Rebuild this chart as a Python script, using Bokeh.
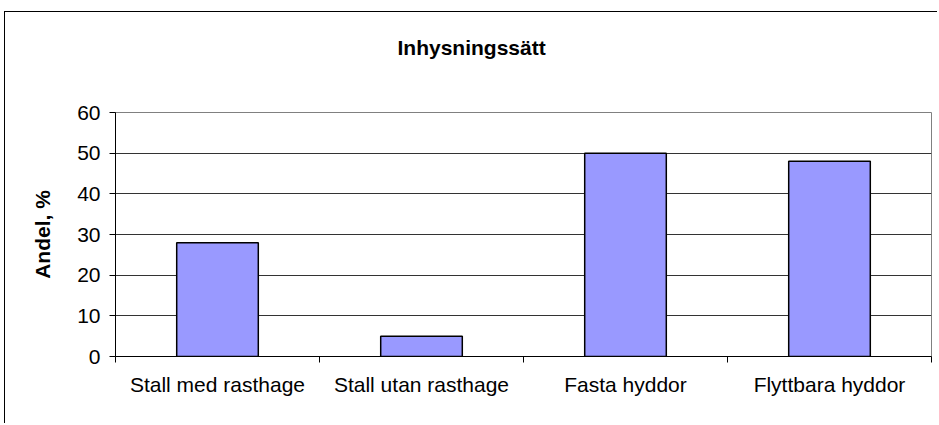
import numpy as np
from bokeh.plotting import figure
from bokeh.models import ColumnDataSource, FixedTicker, Range1d, Title
from bokeh.embed import file_html
from bokeh.resources import INLINE

title_text = "Inhysningssätt"
y_label = "Andel, %"
categories = ["Stall med rasthage", "Stall utan rasthage", "Fasta hyddor", "Flyttbara hyddor"]
values = [28, 5, 50, 48]
y_ticks = [0, 10, 20, 30, 40, 50, 60]

FONT = "Liberation Sans"

pos = np.arange(len(categories)) + 0.5
src = ColumnDataSource(dict(x=pos, top=values, cat=categories))

p = figure(width=933, height=412, output_backend="svg", toolbar_location=None,
           x_range=Range1d(0, len(categories)), y_range=Range1d(0, 60),
           min_border_left=110, min_border_right=7, min_border_top=100, min_border_bottom=68)

p.margin = (11, 0, 0, 4)
p.styles = {"border-left": "1px solid black", "border-top": "1px solid black"}

p.vbar(x="x", top="top", width=0.4, source=src, fill_color="#9999FF",
       line_color="black", line_width=1.5)

# empty spacer between the plot area and the chart title
spacer = Title(text=" ", text_font_size="10px", standoff=20)
p.add_layout(spacer, "above")

p.title.text = title_text
p.title.align = "left"
p.title.offset = 282
p.title.vertical_align = "top"
p.title.text_font = FONT
p.title.text_font_size = "21px"
p.title.text_font_style = "bold"
p.title.text_color = "black"
p.title.standoff = 38

p.outline_line_color = "#808080"
p.outline_line_width = 1
p.background_fill_color = "white"
p.border_fill_color = "white"

p.xgrid.visible = False
p.ygrid.ticker = FixedTicker(ticks=y_ticks)
p.ygrid.grid_line_color = "#333333"
p.ygrid.grid_line_width = 1

xa = p.xaxis[0]
xa.ticker = FixedTicker(ticks=list(pos), minor_ticks=list(range(len(categories) + 1)))
xa.major_label_overrides = {float(x): c for x, c in zip(pos, categories)}
xa.major_tick_line_color = None
xa.minor_tick_line_color = "black"
xa.minor_tick_in = 0
xa.minor_tick_out = 6
xa.axis_line_color = "black"
xa.major_label_text_font = FONT
xa.major_label_text_font_size = "21px"
xa.major_label_text_color = "black"
xa.major_label_standoff = 10

ya = p.yaxis[0]
ya.ticker = FixedTicker(ticks=y_ticks)
ya.minor_tick_line_color = None
ya.major_tick_in = 0
ya.major_tick_out = 6
ya.major_tick_line_color = "black"
ya.axis_line_color = "black"
ya.major_label_text_font = FONT
ya.major_label_text_font_size = "21px"
ya.major_label_text_color = "black"
ya.major_label_standoff = 9
ya.axis_label = y_label
ya.axis_label_text_font = FONT
ya.axis_label_text_font_size = "21px"
ya.axis_label_text_font_style = "bold"
ya.axis_label_text_color = "black"
ya.axis_label_standoff = 20

open("out.html", "w").write(file_html(p, INLINE))
